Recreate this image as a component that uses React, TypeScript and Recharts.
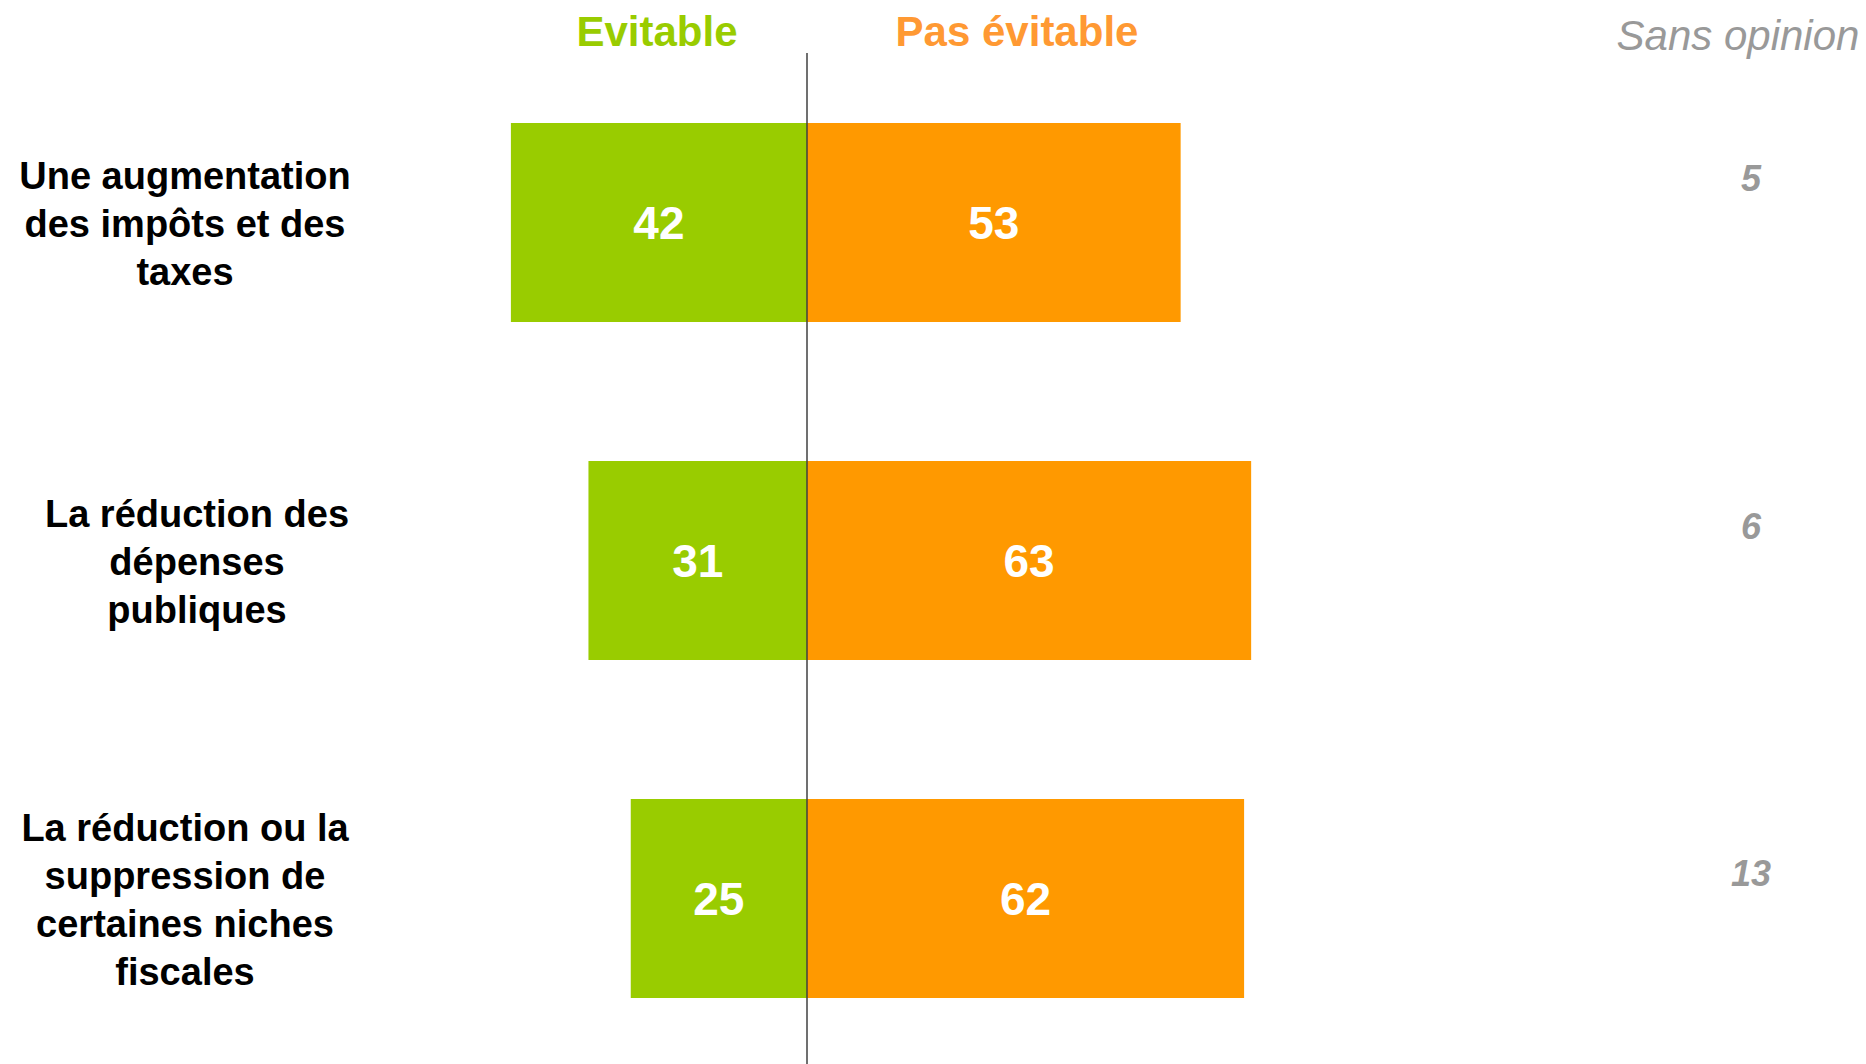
import React from 'react';
import { BarChart, Bar, XAxis, YAxis, LabelList, ReferenceLine } from 'recharts';

// ---- data ----
const categories = [
  'Une augmentation des impôts et des taxes',
  'La réduction des dépenses publiques',
  'La réduction ou la suppression de certaines niches fiscales',
];
const categoryLines = [
  ['Une augmentation', 'des impôts et des', 'taxes'],
  ['La réduction des', 'dépenses', 'publiques'],
  ['La réduction ou la', 'suppression de', 'certaines niches', 'fiscales'],
];
const evitable = [42, 31, 25];
const pasEvitable = [53, 63, 62];
const sansOpinion = [5, 6, 13];
const seriesNames = ['Evitable', 'Pas évitable', 'Sans opinion'];

const data = categories.map((name, i) => ({
  name,
  evitable: -evitable[i],
  pasEvitable: pasEvitable[i],
  sansOpinion: sansOpinion[i],
}));

// ---- style ----
const FONT = '"Liberation Sans", Arial, Helvetica, sans-serif';
const GREEN = '#99CC00';
const ORANGE = '#FF9900';
const ORANGE_TITLE = '#FF9933';
const GRAY = '#999999';
const W = 1866;
const H = 1064;
const CHART_H = 1067;
const LABEL_CX = [185, 197, 185];
const LINE_H = 48;
const SANS_X = 1751;
const SANS_DY = [-44, -34, -25];

const LeftTick = (props: any) => {
  const { y, payload } = props;
  const idx = categories.indexOf(payload.value);
  const lines = categoryLines[idx] || [payload.value];
  const cx = LABEL_CX[idx] ?? 185;
  const n = lines.length;
  return (
    <text
      x={cx}
      y={y}
      textAnchor="middle"
      fontFamily={FONT}
      fontWeight="bold"
      fontSize={38}
      fill="#000"
    >
      {lines.map((l: string, i: number) => (
        <tspan key={i} x={cx} y={y + 2 + (i - (n - 1) / 2) * LINE_H} dy="0.35em">
          {l}
        </tspan>
      ))}
    </text>
  );
};

const SansLabel = (props: any) => {
  const { y, height, value, index } = props;
  const cy = y + height / 2 + (SANS_DY[index] ?? 0);
  return (
    <text
      x={SANS_X}
      y={cy}
      dy="0.35em"
      textAnchor="middle"
      fontFamily={FONT}
      fontWeight="bold"
      fontStyle="italic"
      fontSize={36}
      fill={GRAY}
    >
      {value}
    </text>
  );
};

export default function App() {
  return (
    <div style={{ position: 'absolute', left: 0, top: 0, width: W, height: H, background: '#fff', overflow: 'hidden' }}>
      <BarChart
        width={W}
        height={CHART_H}
        data={data}
        layout="vertical"
        stackOffset="sign"
        margin={{ top: 53, right: 354, bottom: 0, left: 0 }}
        barSize={199}
      >
        <XAxis type="number" domain={[-60, 100]} hide allowDataOverflow />
        <YAxis
          type="category"
          dataKey="name"
          width={384}
          axisLine={false}
          tickLine={false}
          tick={<LeftTick />}
          interval={0}
        />
        <Bar dataKey="evitable" name={seriesNames[0]} stackId="s" fill={GREEN} isAnimationActive={false}>
          <LabelList
            dataKey="evitable"
            position="center"
            formatter={(v: any) => Math.abs(Number(v))}
            fill="#fff"
            fontSize={46}
            fontWeight="bold"
            fontFamily={FONT}
          />
        </Bar>
        <Bar dataKey="pasEvitable" name={seriesNames[1]} stackId="s" fill={ORANGE} isAnimationActive={false}>
          <LabelList
            dataKey="pasEvitable"
            position="center"
            fill="#fff"
            fontSize={46}
            fontWeight="bold"
            fontFamily={FONT}
          />
          <LabelList dataKey="sansOpinion" content={<SansLabel />} />
        </Bar>
        <ReferenceLine x={0} stroke="#404040" strokeWidth={1.5} />
      </BarChart>
      <div
        style={{
          position: 'absolute', left: 557, top: 8, width: 200, textAlign: 'center',
          fontFamily: FONT, fontWeight: 'bold', fontSize: 42, color: GREEN, lineHeight: '48px',
        }}
      >
        {seriesNames[0]}
      </div>
      <div
        style={{
          position: 'absolute', left: 867, top: 8, width: 300, textAlign: 'center',
          fontFamily: FONT, fontWeight: 'bold', fontSize: 42, color: ORANGE_TITLE, lineHeight: '48px',
        }}
      >
        {seriesNames[1]}
      </div>
      <div
        style={{
          position: 'absolute', left: 1588, top: 12, width: 300, textAlign: 'center',
          fontFamily: FONT, fontStyle: 'italic', fontSize: 42, color: GRAY, lineHeight: '48px',
        }}
      >
        {seriesNames[2]}
      </div>
    </div>
  );
}
